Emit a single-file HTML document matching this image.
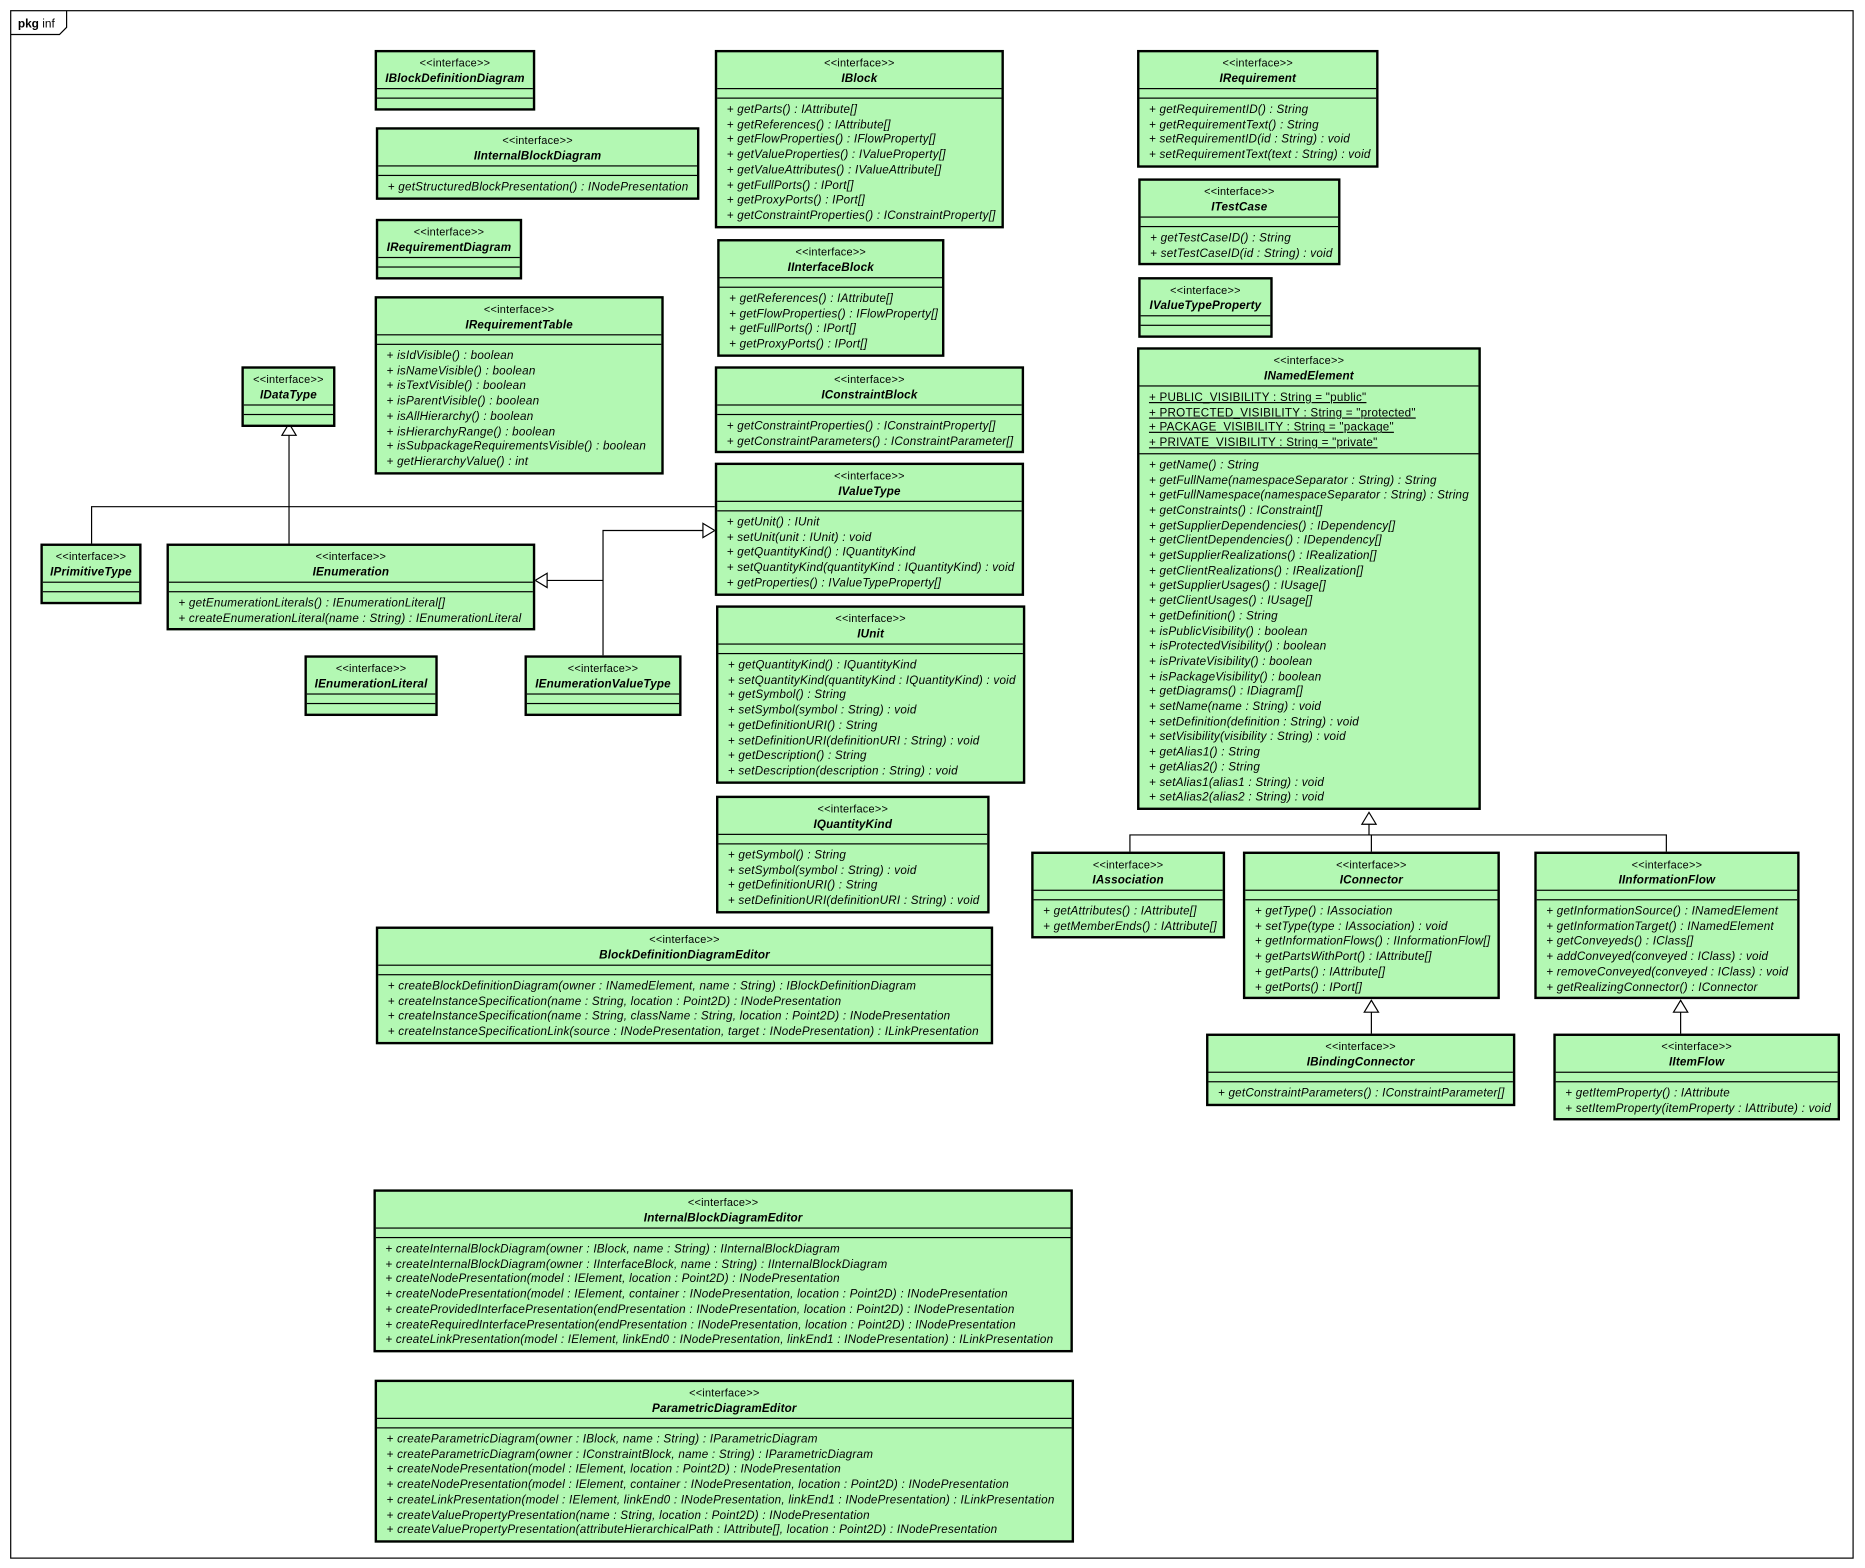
<!DOCTYPE html>
<html><head><meta charset="utf-8">
<style>
html,body{margin:0;padding:0;background:#fff;}
body{width:1865px;height:1568px;overflow:hidden;position:relative;}
#c{position:absolute;left:0;top:0;width:1568px;height:1318px;transform:scale(1.1894);transform-origin:0 0;font-family:"Liberation Sans",Arial,sans-serif;}
.b{position:absolute;background:#b3f8b3;border:2px solid #000;box-sizing:border-box;}
.h{height:31px;border-bottom:1px solid #000;text-align:center;box-sizing:border-box;padding-top:3px;}
.s{font-size:9.2px;line-height:12.5px;letter-spacing:0.2px;}
.n{font-size:9.8px;font-weight:bold;font-style:italic;line-height:13px;letter-spacing:0.15px;}
.a{height:7px;border-bottom:1px solid #000;}
.o{padding:4px 0 1px 8px;font-size:9.8px;font-style:italic;line-height:12.7px;letter-spacing:0.2px;white-space:nowrap;min-height:3px;}
.at{padding:4px 0 1px 8px;font-size:9.8px;line-height:12.7px;letter-spacing:0.2px;white-space:nowrap;border-bottom:1px solid #000;}
.at span{text-decoration:underline;}
svg{position:absolute;left:0;top:0;}
</style></head><body><div id="c">
<svg width="1568" height="1318">
<rect x="9" y="9" width="1549" height="1301" fill="none" stroke="#000" stroke-width="1"/>
<path d="M9 29 H50 L56 23 V9" fill="none" stroke="#000"/>
<text x="15" y="23" font-family="Liberation Sans,Arial,sans-serif" font-size="10"><tspan font-weight="bold">pkg</tspan> inf</text>
<g stroke="#000" stroke-width="1" fill="none">
<path d="M243 457 V366"/><path d="M237 366 L243 356 L249 366 Z" fill="#fff"/>
<path d="M77 457 V426 H601"/>
<path d="M507 551 V446 H591"/><path d="M591 440 L601 446 L591 452 Z" fill="#fff"/>
<path d="M507 488 H460"/><path d="M460 482 L450 488 L460 494 Z" fill="#fff"/>
<path d="M1151 693 V702"/><path d="M1145 693 L1151 683 L1157 693 Z" fill="#fff"/>
<path d="M950 716 V702 H1401 V716 M1153 702 V716"/>
<path d="M1153 851 V869"/><path d="M1147 851 L1153 841 L1159 851 Z" fill="#fff"/>
<path d="M1413 851 V869"/><path d="M1407 851 L1413 841 L1419 851 Z" fill="#fff"/>
</g></svg>

<div class="b" style="left:315px;top:42px;width:135px"><div class="h"><div class="s">&lt;&lt;interface&gt;&gt;</div><div class="n">IBlockDefinitionDiagram</div></div><div class="a"></div><div class="o"></div></div>

<div class="b" style="left:316px;top:107px;width:272px"><div class="h"><div class="s">&lt;&lt;interface&gt;&gt;</div><div class="n">IInternalBlockDiagram</div></div><div class="a"></div><div class="o">+ getStructuredBlockPresentation() : INodePresentation</div></div>

<div class="b" style="left:316px;top:184px;width:123px"><div class="h"><div class="s">&lt;&lt;interface&gt;&gt;</div><div class="n">IRequirementDiagram</div></div><div class="a"></div><div class="o"></div></div>

<div class="b" style="left:315px;top:249px;width:243px"><div class="h"><div class="s">&lt;&lt;interface&gt;&gt;</div><div class="n">IRequirementTable</div></div><div class="a"></div><div class="o">+ isIdVisible() : boolean<br>+ isNameVisible() : boolean<br>+ isTextVisible() : boolean<br>+ isParentVisible() : boolean<br>+ isAllHierarchy() : boolean<br>+ isHierarchyRange() : boolean<br>+ isSubpackageRequirementsVisible() : boolean<br>+ getHierarchyValue() : int</div></div>

<div class="b" style="left:203px;top:308px;width:79px"><div class="h"><div class="s">&lt;&lt;interface&gt;&gt;</div><div class="n">IDataType</div></div><div class="a"></div><div class="o"></div></div>

<div class="b" style="left:34px;top:457px;width:85px"><div class="h"><div class="s">&lt;&lt;interface&gt;&gt;</div><div class="n">IPrimitiveType</div></div><div class="a"></div><div class="o"></div></div>

<div class="b" style="left:140px;top:457px;width:310px"><div class="h"><div class="s">&lt;&lt;interface&gt;&gt;</div><div class="n">IEnumeration</div></div><div class="a"></div><div class="o">+ getEnumerationLiterals() : IEnumerationLiteral[]<br>+ createEnumerationLiteral(name : String) : IEnumerationLiteral</div></div>

<div class="b" style="left:256px;top:551px;width:112px"><div class="h"><div class="s">&lt;&lt;interface&gt;&gt;</div><div class="n">IEnumerationLiteral</div></div><div class="a"></div><div class="o"></div></div>

<div class="b" style="left:441px;top:551px;width:132px"><div class="h"><div class="s">&lt;&lt;interface&gt;&gt;</div><div class="n">IEnumerationValueType</div></div><div class="a"></div><div class="o"></div></div>

<div class="b" style="left:601px;top:42px;width:243px"><div class="h"><div class="s">&lt;&lt;interface&gt;&gt;</div><div class="n">IBlock</div></div><div class="a"></div><div class="o">+ getParts() : IAttribute[]<br>+ getReferences() : IAttribute[]<br>+ getFlowProperties() : IFlowProperty[]<br>+ getValueProperties() : IValueProperty[]<br>+ getValueAttributes() : IValueAttribute[]<br>+ getFullPorts() : IPort[]<br>+ getProxyPorts() : IPort[]<br>+ getConstraintProperties() : IConstraintProperty[]</div></div>

<div class="b" style="left:603px;top:201px;width:191px"><div class="h"><div class="s">&lt;&lt;interface&gt;&gt;</div><div class="n">IInterfaceBlock</div></div><div class="a"></div><div class="o">+ getReferences() : IAttribute[]<br>+ getFlowProperties() : IFlowProperty[]<br>+ getFullPorts() : IPort[]<br>+ getProxyPorts() : IPort[]</div></div>

<div class="b" style="left:601px;top:308px;width:260px"><div class="h"><div class="s">&lt;&lt;interface&gt;&gt;</div><div class="n">IConstraintBlock</div></div><div class="a"></div><div class="o">+ getConstraintProperties() : IConstraintProperty[]<br>+ getConstraintParameters() : IConstraintParameter[]</div></div>

<div class="b" style="left:601px;top:389px;width:260px"><div class="h"><div class="s">&lt;&lt;interface&gt;&gt;</div><div class="n">IValueType</div></div><div class="a"></div><div class="o">+ getUnit() : IUnit<br>+ setUnit(unit : IUnit) : void<br>+ getQuantityKind() : IQuantityKind<br>+ setQuantityKind(quantityKind : IQuantityKind) : void<br>+ getProperties() : IValueTypeProperty[]</div></div>

<div class="b" style="left:602px;top:509px;width:260px"><div class="h"><div class="s">&lt;&lt;interface&gt;&gt;</div><div class="n">IUnit</div></div><div class="a"></div><div class="o">+ getQuantityKind() : IQuantityKind<br>+ setQuantityKind(quantityKind : IQuantityKind) : void<br>+ getSymbol() : String<br>+ setSymbol(symbol : String) : void<br>+ getDefinitionURI() : String<br>+ setDefinitionURI(definitionURI : String) : void<br>+ getDescription() : String<br>+ setDescription(description : String) : void</div></div>

<div class="b" style="left:602px;top:669px;width:230px"><div class="h"><div class="s">&lt;&lt;interface&gt;&gt;</div><div class="n">IQuantityKind</div></div><div class="a"></div><div class="o">+ getSymbol() : String<br>+ setSymbol(symbol : String) : void<br>+ getDefinitionURI() : String<br>+ setDefinitionURI(definitionURI : String) : void</div></div>

<div class="b" style="left:316px;top:779px;width:519px"><div class="h"><div class="s">&lt;&lt;interface&gt;&gt;</div><div class="n">BlockDefinitionDiagramEditor</div></div><div class="a"></div><div class="o">+ createBlockDefinitionDiagram(owner : INamedElement, name : String) : IBlockDefinitionDiagram<br>+ createInstanceSpecification(name : String, location : Point2D) : INodePresentation<br>+ createInstanceSpecification(name : String, className : String, location : Point2D) : INodePresentation<br>+ createInstanceSpecificationLink(source : INodePresentation, target : INodePresentation) : ILinkPresentation</div></div>

<div class="b" style="left:314px;top:1000px;width:588px"><div class="h"><div class="s">&lt;&lt;interface&gt;&gt;</div><div class="n">InternalBlockDiagramEditor</div></div><div class="a"></div><div class="o">+ createInternalBlockDiagram(owner : IBlock, name : String) : IInternalBlockDiagram<br>+ createInternalBlockDiagram(owner : IInterfaceBlock, name : String) : IInternalBlockDiagram<br>+ createNodePresentation(model : IElement, location : Point2D) : INodePresentation<br>+ createNodePresentation(model : IElement, container : INodePresentation, location : Point2D) : INodePresentation<br>+ createProvidedInterfacePresentation(endPresentation : INodePresentation, location : Point2D) : INodePresentation<br>+ createRequiredInterfacePresentation(endPresentation : INodePresentation, location : Point2D) : INodePresentation<br>+ createLinkPresentation(model : IElement, linkEnd0 : INodePresentation, linkEnd1 : INodePresentation) : ILinkPresentation</div></div>

<div class="b" style="left:315px;top:1160px;width:588px"><div class="h"><div class="s">&lt;&lt;interface&gt;&gt;</div><div class="n">ParametricDiagramEditor</div></div><div class="a"></div><div class="o">+ createParametricDiagram(owner : IBlock, name : String) : IParametricDiagram<br>+ createParametricDiagram(owner : IConstraintBlock, name : String) : IParametricDiagram<br>+ createNodePresentation(model : IElement, location : Point2D) : INodePresentation<br>+ createNodePresentation(model : IElement, container : INodePresentation, location : Point2D) : INodePresentation<br>+ createLinkPresentation(model : IElement, linkEnd0 : INodePresentation, linkEnd1 : INodePresentation) : ILinkPresentation<br>+ createValuePropertyPresentation(name : String, location : Point2D) : INodePresentation<br>+ createValuePropertyPresentation(attributeHierarchicalPath : IAttribute[], location : Point2D) : INodePresentation</div></div>

<div class="b" style="left:956px;top:42px;width:203px"><div class="h"><div class="s">&lt;&lt;interface&gt;&gt;</div><div class="n">IRequirement</div></div><div class="a"></div><div class="o">+ getRequirementID() : String<br>+ getRequirementText() : String<br>+ setRequirementID(id : String) : void<br>+ setRequirementText(text : String) : void</div></div>

<div class="b" style="left:957px;top:150px;width:170px"><div class="h"><div class="s">&lt;&lt;interface&gt;&gt;</div><div class="n">ITestCase</div></div><div class="a"></div><div class="o">+ getTestCaseID() : String<br>+ setTestCaseID(id : String) : void</div></div>

<div class="b" style="left:957px;top:233px;width:113px"><div class="h"><div class="s">&lt;&lt;interface&gt;&gt;</div><div class="n">IValueTypeProperty</div></div><div class="a"></div><div class="o"></div></div>

<div class="b" style="left:956px;top:292px;width:289px"><div class="h"><div class="s">&lt;&lt;interface&gt;&gt;</div><div class="n">INamedElement</div></div><div class="at"><span>+ PUBLIC_VISIBILITY : String = "public"</span><br><span>+ PROTECTED_VISIBILITY : String = "protected"</span><br><span>+ PACKAGE_VISIBILITY : String = "package"</span><br><span>+ PRIVATE_VISIBILITY : String = "private"</span></div><div class="o">+ getName() : String<br>+ getFullName(namespaceSeparator : String) : String<br>+ getFullNamespace(namespaceSeparator : String) : String<br>+ getConstraints() : IConstraint[]<br>+ getSupplierDependencies() : IDependency[]<br>+ getClientDependencies() : IDependency[]<br>+ getSupplierRealizations() : IRealization[]<br>+ getClientRealizations() : IRealization[]<br>+ getSupplierUsages() : IUsage[]<br>+ getClientUsages() : IUsage[]<br>+ getDefinition() : String<br>+ isPublicVisibility() : boolean<br>+ isProtectedVisibility() : boolean<br>+ isPrivateVisibility() : boolean<br>+ isPackageVisibility() : boolean<br>+ getDiagrams() : IDiagram[]<br>+ setName(name : String) : void<br>+ setDefinition(definition : String) : void<br>+ setVisibility(visibility : String) : void<br>+ getAlias1() : String<br>+ getAlias2() : String<br>+ setAlias1(alias1 : String) : void<br>+ setAlias2(alias2 : String) : void</div></div>

<div class="b" style="left:867px;top:716px;width:163px"><div class="h"><div class="s">&lt;&lt;interface&gt;&gt;</div><div class="n">IAssociation</div></div><div class="a"></div><div class="o">+ getAttributes() : IAttribute[]<br>+ getMemberEnds() : IAttribute[]</div></div>

<div class="b" style="left:1045px;top:716px;width:216px"><div class="h"><div class="s">&lt;&lt;interface&gt;&gt;</div><div class="n">IConnector</div></div><div class="a"></div><div class="o">+ getType() : IAssociation<br>+ setType(type : IAssociation) : void<br>+ getInformationFlows() : IInformationFlow[]<br>+ getPartsWithPort() : IAttribute[]<br>+ getParts() : IAttribute[]<br>+ getPorts() : IPort[]</div></div>

<div class="b" style="left:1290px;top:716px;width:223px"><div class="h"><div class="s">&lt;&lt;interface&gt;&gt;</div><div class="n">IInformationFlow</div></div><div class="a"></div><div class="o">+ getInformationSource() : INamedElement<br>+ getInformationTarget() : INamedElement<br>+ getConveyeds() : IClass[]<br>+ addConveyed(conveyed : IClass) : void<br>+ removeConveyed(conveyed : IClass) : void<br>+ getRealizingConnector() : IConnector</div></div>

<div class="b" style="left:1014px;top:869px;width:260px"><div class="h"><div class="s">&lt;&lt;interface&gt;&gt;</div><div class="n">IBindingConnector</div></div><div class="a"></div><div class="o">+ getConstraintParameters() : IConstraintParameter[]</div></div>

<div class="b" style="left:1306px;top:869px;width:241px"><div class="h"><div class="s">&lt;&lt;interface&gt;&gt;</div><div class="n">IItemFlow</div></div><div class="a"></div><div class="o">+ getItemProperty() : IAttribute<br>+ setItemProperty(itemProperty : IAttribute) : void</div></div>

</div></body></html>
